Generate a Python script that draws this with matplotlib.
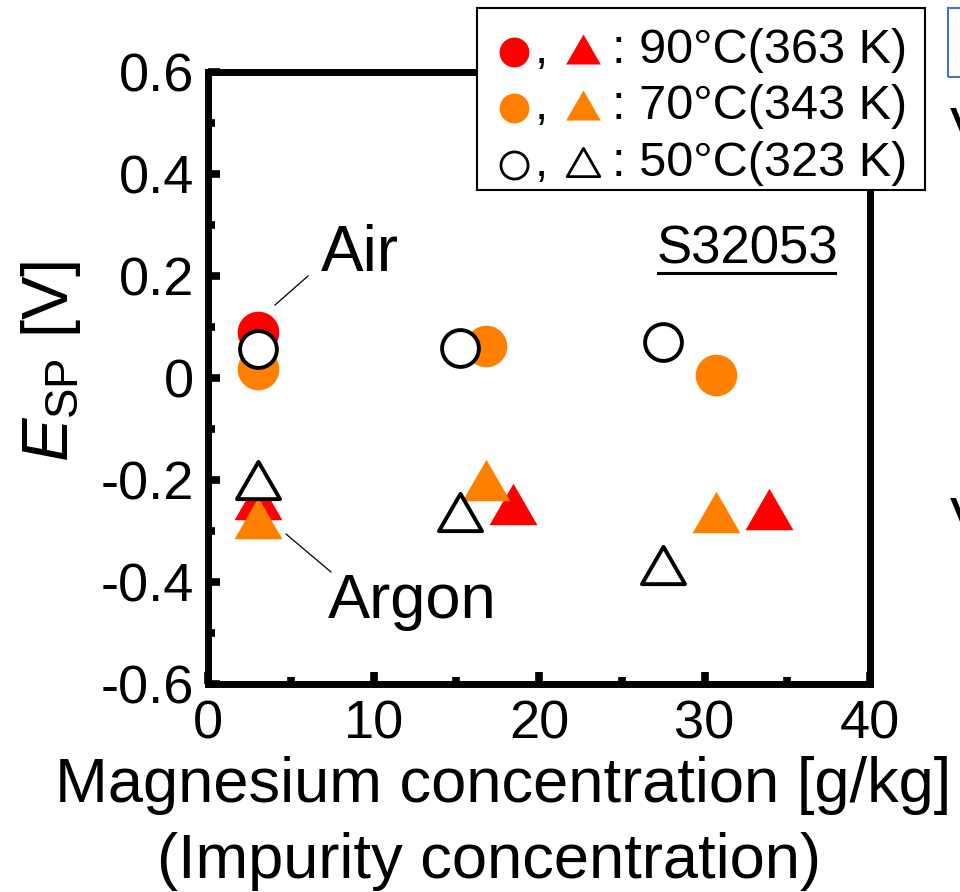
import numpy as np
import matplotlib
matplotlib.use("Agg")
import matplotlib.pyplot as plt
from matplotlib.lines import Line2D
from matplotlib.patches import Rectangle
from matplotlib.path import Path

plt.rcParams['font.family'] = ['Liberation Sans', 'DejaVu Sans']
plt.rcParams['mathtext.fontset'] = 'custom'
plt.rcParams['mathtext.rm'] = 'Liberation Sans'
plt.rcParams['mathtext.it'] = 'Liberation Sans:italic'
plt.rcParams['axes.unicode_minus'] = False

# E_SP [V] against Mg concentration [g/kg]
mg_90_air = [3.0]
esp_90_air = [0.090]
mg_90_ar = [3.0, 18.4, 33.9]
esp_90_ar = [-0.237, -0.247, -0.256]
mg_70_air = [3.0, 16.8, 30.7]
esp_70_air = [0.018, 0.063, 0.006]
mg_70_ar = [3.0, 16.8, 30.7]
esp_70_ar = [-0.275, -0.200, -0.263]
mg_50_air = [3.0, 15.2, 27.5]
esp_50_air = [0.057, 0.059, 0.071]
mg_50_ar = [3.0, 15.2, 27.5]
esp_50_ar = [-0.200, -0.263, -0.367]

xticks = [0, 10, 20, 30, 40]
yticks = [-0.6, -0.4, -0.2, 0, 0.2, 0.4, 0.6]
ytick_labels = ['-0.6', '-0.4', '-0.2', '0', '0.2', '0.4', '0.6']
legend_labels = [': 90\u00b0C(363 K)', ': 70\u00b0C(343 K)', ': 50\u00b0C(323 K)']

RED = '#FF0000'
ORANGE = '#FF8000'
W, H = 960, 892

# equilateral triangle, centred on its bounding box, closed so the outline joins
tri = Path([(-1, -0.866), (1, -0.866), (0, 0.866), (0, 0)], closed=True)


def fx(px):
    return px / W


def fy(py):
    return 1 - py / H


fig = plt.figure(figsize=(W / 100, H / 100), dpi=100)
ax = fig.add_axes([fx(208), fy(684), (870 - 208) / W, (684 - 72) / H])

ax.plot(mg_90_ar, esp_90_ar, ls='none', marker=tri, ms=34.5, mfc=RED, mec='none')
ax.plot(mg_70_ar, esp_70_ar, ls='none', marker=tri, ms=34.5, mfc=ORANGE, mec='none')
ax.plot(mg_50_ar, esp_50_ar, ls='none', marker=tri, ms=31, mfc='white', mec='black', mew=2.8)
ax.plot(mg_90_air, esp_90_air, ls='none', marker='o', ms=30, mfc=RED, mec='none')
ax.plot(mg_70_air, esp_70_air, ls='none', marker='o', ms=30, mfc=ORANGE, mec='none')
ax.plot(mg_50_air, esp_50_air, ls='none', marker='o', ms=26.5, mfc='white', mec='black', mew=2.8)

ax.set_xlim(0, 40)
ax.set_ylim(-0.6, 0.6)
ax.set_xticks(xticks)
ax.set_xticks(np.arange(5, 40, 10), minor=True)
ax.set_yticks(yticks)
ax.set_yticklabels(ytick_labels)
ax.set_yticks(np.arange(-0.5, 0.6, 0.2), minor=True)
ax.tick_params(which='both', direction='in', top=False, right=False, labelsize=39, width=5.5)
ax.tick_params(which='major', length=8.5)
ax.tick_params(which='minor', length=5)
ax.tick_params(axis='y', pad=10)
ax.tick_params(axis='x', pad=11)
for s in ax.spines.values():
    s.set_linewidth(5)

# axis titles
fig.text(fx(51), fy(361), r'$E_{\mathrm{SP}}$ [V]', fontsize=47, rotation=90,
         ha='center', va='center')
fig.text(fx(503), fy(802), 'Magnesium concentration [g/kg]', fontsize=45.5,
         ha='center', va='baseline')
fig.text(fx(489), fy(878), '(Impurity concentration)', fontsize=45.5,
         ha='center', va='baseline')

# labels inside the plot
fig.text(fx(321), fy(271), 'Air', fontsize=46, va='baseline')
fig.add_artist(Line2D([fx(275), fx(308)], [fy(305), fy(276)], color='black', lw=0.9))
fig.text(fx(328), fy(618), 'Argon', fontsize=45.5, va='baseline')
fig.add_artist(Line2D([fx(286), fx(331)], [fy(534), fy(572)], color='black', lw=0.9))
fig.text(fx(657), fy(264), 'S32053', fontsize=38, va='baseline')
fig.add_artist(Line2D([fx(658), fx(835)], [fy(273), fy(273)], color='black', lw=2.2))

# legend box drawn by hand
lg = fig.add_axes([fx(477), fy(190), (925 - 477) / W, (190 - 8) / H], zorder=5)
lg.set_xlim(477, 925)
lg.set_ylim(190, 8)
lg.set_xticks([])
lg.set_yticks([])
for s in lg.spines.values():
    s.set_linewidth(1.5)
base = [63, 119, 176]
fills = [RED, ORANGE, 'white']
for i in range(3):
    b = base[i]
    if fills[i] == 'white':
        lg.plot([514], [b - 11], marker='o', ms=19.5, mfc='white', mec='black', mew=2)
        lg.plot([583], [b - 14], marker=tri, ms=23.5, mfc='white', mec='black', mew=2)
    else:
        lg.plot([514], [b - 11], marker='o', ms=21.5, mfc=fills[i], mec='none')
        lg.plot([583], [b - 14], marker=tri, ms=25, mfc=fills[i], mec='none')
    lg.text(541, b, ',', fontsize=34, ha='center', va='baseline')
    lg.text(612, b, legend_labels[i], fontsize=35, ha='left', va='baseline')

# bits of the neighbouring panel at the right edge
fig.add_artist(Rectangle((fx(948), fy(77)), 40 / W, 69 / H, fill=False,
                         edgecolor='#4472C4', lw=1.5))
fig.text(fx(950), fy(148), 'V', fontsize=42, va='baseline')
fig.text(fx(950), fy(538), 'V', fontsize=42, va='baseline')

fig.savefig('out.png', dpi=100)
